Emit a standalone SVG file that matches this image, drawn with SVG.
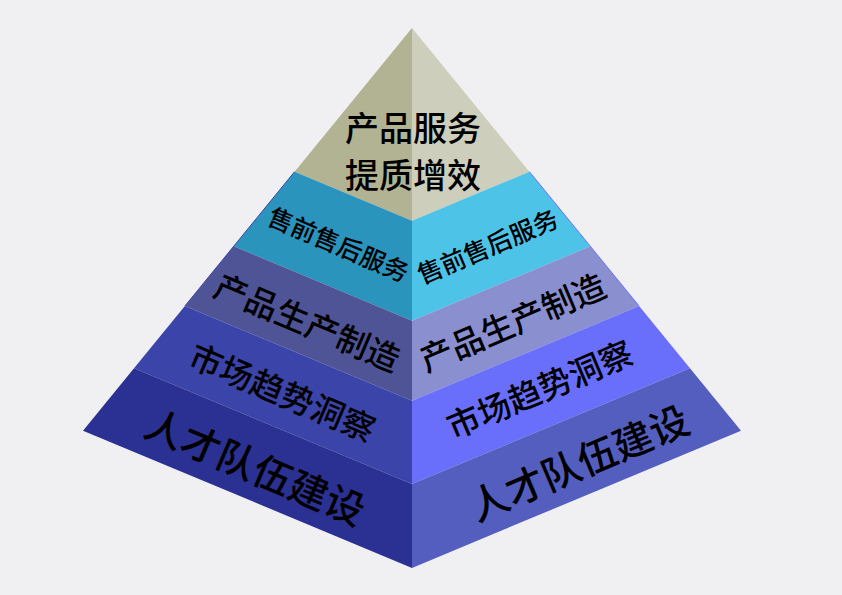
<svg xmlns="http://www.w3.org/2000/svg" width="842" height="595" viewBox="0 0 842 595">
<style>
.t{font-family:"Noto Sans CJK SC","Noto Sans",sans-serif;font-weight:500;fill:#000;text-anchor:middle;dominant-baseline:central}
.edge{fill:none;stroke-width:1}
</style>
<rect width="842" height="595" fill="#f0f0f3"/>
<g id="layer-top">
<polygon points="412,28 294.6,171.7 412,220.7" fill="#b2b393"/>
<polygon points="412,28 412,220.7 529.4,171.7" fill="#cecebd"/>
</g>
<g id="layer-sales">
<polygon points="294.6,171.7 233.7,246.3 412,320.7 412,220.7" fill="#2a94bd"/>
<polygon points="412,220.7 412,320.7 590.3,246.3 529.4,171.7" fill="#4ec3e8"/>
</g>
<g id="layer-production">
<polygon points="233.7,246.3 184.9,306 412,400.7 412,320.7" fill="#4e5495"/>
<polygon points="412,320.7 412,400.7 639.1,306 590.3,246.3" fill="#8a8fd0"/>
</g>
<g id="layer-market">
<polygon points="184.9,306 134,368.3 412,484 412,400.7" fill="#3b44a9"/>
<polygon points="412,400.7 412,484 690,368.3 639.1,306" fill="#6a6ffb"/>
</g>
<g id="layer-talent">
<polygon points="134,368.3 83,430.7 412,567.9 412,484" fill="#2b3192"/>
<polygon points="412,484 412,567.9 741,430.7 690,368.3" fill="#535ebf"/>
</g>
<g id="connectors">
<polyline class="edge" points="294.6,171.7 184.9,306" stroke="#3b44a9"/>
<polyline class="edge" points="529.4,171.7 639.1,306" stroke="#6a6ffb"/>
</g>
<g id="labels">
<text class="t" x="413" y="126" font-size="34">产品服务</text>
<text class="t" x="413" y="173" font-size="34">提质增效</text>
<text class="t" x="339" y="243" font-size="25" transform="rotate(23 339 243)">售前售后服务</text>
<text class="t" x="487" y="245" font-size="25" transform="rotate(-23 487 245)">售前售后服务</text>
<text class="t" x="308" y="321" font-size="33" transform="rotate(23 308 321)">产品生产制造</text>
<text class="t" x="512" y="321" font-size="33" transform="rotate(-23 512 321)">产品生产制造</text>
<text class="t" x="283" y="391" font-size="33" transform="rotate(23 283 391)">市场趋势洞察</text>
<text class="t" x="539" y="388" font-size="33" transform="rotate(-23 539 388)">市场趋势洞察</text>
<text class="t" x="256" y="465" font-size="39" transform="rotate(23 256 465)">人才队伍建设</text>
<text class="t" x="578" y="461" font-size="39" transform="rotate(-23 578 461)">人才队伍建设</text>
</g>
</svg>
